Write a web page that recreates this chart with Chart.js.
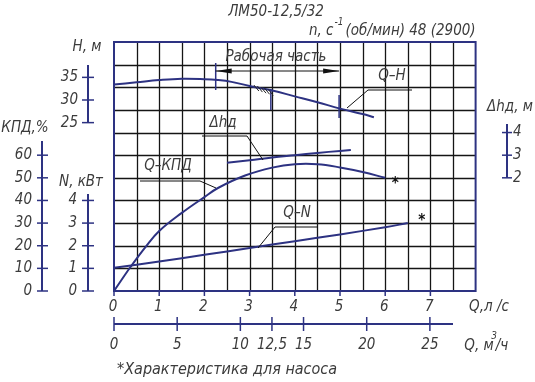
<!DOCTYPE html>
<html><head><meta charset="utf-8">
<script src="https://cdn.jsdelivr.net/npm/chart.js@4"></script>
<style>html,body{margin:0;padding:0;background:#fff}canvas{display:block}</style>
</head><body>
<canvas id="c" width="535" height="382"></canvas>
<script>
// ---- data (Q in l/s) ----
const qHead = [0, 0.5, 1, 1.5, 2, 2.3, 2.6, 3, 3.5, 4, 4.5, 5, 5.5, 5.75];
const head = [33.4, 33.9, 34.4, 34.7, 34.6, 34.4, 34.0, 33.1, 32.1, 30.8, 29.5, 28.1, 26.9, 26.2];
const qEff = [0, 0.18, 0.36, 0.7, 1.0, 1.5, 2.0, 2.3, 2.9, 3.5, 4.0, 4.5, 5.0, 5.5, 6.0];
const eff = [0, 5.3, 10.5, 19.5, 26.5, 34.5, 41.5, 45.5, 51, 54.5, 56, 56, 54.6, 52.6, 50];
const qPow = [0, 1, 2, 3, 4, 5, 6, 6.5];
const power = [1.03, 1.3, 1.6, 1.9, 2.2, 2.5, 2.82, 3.0];
const qNpsh = [2.5, 3.0, 3.5, 4.0, 4.5, 5.0, 5.24];
const npsh = [2.67, 2.78, 2.9, 3.0, 3.1, 3.19, 3.23];
const qLsTicks = [0, 1, 2, 3, 4, 5, 6, 7];
const qM3hTicks = [0, 5, 10, 12.5, 15, 20, 25];
const qM3hLabels = ['0', '5', '10', '12,5', '15', '20', '25'];
const headTicks = [25, 30, 35];
const effTicks = [0, 10, 20, 30, 40, 50, 60];
const powTicks = [0, 1, 2, 3, 4];
const npshTicks = [2, 3, 4];
const workRange = [2.25, 4.98];
const hatchQ = 3.47;

const NAVY = '#2d3282', INK = '#3c3c3c', GRID = '#151515';
const FF = '"Liberation Sans Narrow", "DejaVu Sans Condensed", sans-serif';
const FS = 15;

function pts(xs, ys) { return xs.map((x, i) => ({ x: x, y: ys[i] })); }
function txt(ctx, s, x, y, align, size) {
  ctx.font = 'italic ' + (size || FS) + 'px ' + FF;
  ctx.textAlign = align || 'center'; ctx.textBaseline = 'middle';
  ctx.fillStyle = INK; ctx.fillText(s, x, y);
}
function line(ctx, p, color, w) {
  ctx.beginPath(); ctx.moveTo(p[0][0], p[0][1]);
  for (let i = 1; i < p.length; i++) ctx.lineTo(p[i][0], p[i][1]);
  ctx.strokeStyle = color; ctx.lineWidth = w; ctx.stroke();
}

const drawPlugin = {
  id: 'pumpDecor',
  beforeDatasetsDraw(chart) {
    const ctx = chart.ctx, a = chart.chartArea, sx = chart.scales.x, sn = chart.scales.yN;
    ctx.save();
    ctx.strokeStyle = GRID; ctx.lineWidth = 1.3;
    for (let q = 0.5; q < 8; q += 0.5) {
      const x = Math.round(sx.getPixelForValue(q)) + 0.5;
      ctx.beginPath(); ctx.moveTo(x, a.top); ctx.lineTo(x, a.bottom); ctx.stroke();
    }
    for (let r = 1; r < 11; r++) {
      const y = Math.round(sn.getPixelForValue(r)) + 0.5;
      ctx.beginPath(); ctx.moveTo(a.left, y); ctx.lineTo(a.right, y); ctx.stroke();
    }
    ctx.restore();
  },
  afterDatasetsDraw(chart) {
    const ctx = chart.ctx, a = chart.chartArea, s = chart.scales;
    const sx = s.x, sH = s.yH, sK = s.yK, sN = s.yN, sD = s.yD;
    ctx.save();
    // frame
    ctx.strokeStyle = NAVY; ctx.lineWidth = 2;
    ctx.strokeRect(a.left, a.top, a.right - a.left, a.bottom - a.top);
    // bottom ticks (l/s)
    qLsTicks.forEach(q => {
      const x = sx.getPixelForValue(q);
      line(ctx, [[x, a.bottom], [x, a.bottom + 5]], NAVY, 1.5);
      txt(ctx, String(q), x - 1, 307);
    });
    txt(ctx, 'Q,л /с', 489, 307);
    // m3/h axis
    const yM = 324;
    line(ctx, [[sx.getPixelForValue(0), yM], [sx.getPixelForValue(7.5), yM]], NAVY, 2);
    qM3hTicks.forEach((v, i) => {
      const x = sx.getPixelForValue(v / 3.6) + v * 0.08;
      line(ctx, [[x, yM - 7], [x, yM + 7]], NAVY, 1.5);
      txt(ctx, qM3hLabels[i], x, 345);
    });
    txt(ctx, 'Q, м', 479, 346);
    txt(ctx, '3', 494, 336, 'center', 10);
    txt(ctx, '/ч', 502, 346);
    txt(ctx, '*Характеристика для насоса', 117, 370, 'left', 16);
    // H axis
    const xH = 88;
    line(ctx, [[xH, 65], [xH, sH.getPixelForValue(25)]], NAVY, 2);
    headTicks.forEach(v => {
      const y = sH.getPixelForValue(v);
      line(ctx, [[xH - 6, y], [xH + 6, y]], NAVY, 1.5);
      txt(ctx, String(v), 78, y, 'right');
    });
    txt(ctx, 'H, м', 87, 47);
    // КПД axis
    const xK = 42;
    line(ctx, [[xK, 141], [xK, sK.getPixelForValue(0)]], NAVY, 2);
    effTicks.forEach(v => {
      const y = sK.getPixelForValue(v);
      line(ctx, [[xK - 5, y], [xK + 6, y]], NAVY, 1.5);
      txt(ctx, String(v), 32, y, 'right');
    });
    txt(ctx, 'КПД,%', 25, 128);
    // N axis
    const xN = 88;
    line(ctx, [[xN, 194], [xN, sN.getPixelForValue(0)]], NAVY, 2);
    powTicks.forEach(v => {
      const y = sN.getPixelForValue(v);
      line(ctx, [[xN - 6, y], [xN + 6, y]], NAVY, 1.5);
      txt(ctx, String(v), 77, y, 'right');
    });
    txt(ctx, 'N, кВт', 81, 182);
    // Δhd axis
    const xD = 507;
    line(ctx, [[xD, 124], [xD, sD.getPixelForValue(2)]], NAVY, 2);
    npshTicks.forEach(v => {
      const y = sD.getPixelForValue(v);
      line(ctx, [[xD - 5, y], [xD + 5, y]], NAVY, 1.5);
      txt(ctx, String(v), 513, y, 'left');
    });
    txt(ctx, 'Δhд, м', 510, 107);
    // titles
    txt(ctx, 'ЛМ50-12,5/32', 276, 12);
    ctx.font = 'italic ' + FS + 'px ' + FF;
    let x0 = 309;
    txt(ctx, 'n, с', x0, 31, 'left');
    ctx.font = 'italic ' + FS + 'px ' + FF;
    x0 += ctx.measureText('n, с').width + 1;
    txt(ctx, '-1', x0, 22, 'left', 10);
    x0 += 11;
    txt(ctx, '(об/мин) 48 (2900)', x0, 31, 'left');
    // working range dimension
    const xa = sx.getPixelForValue(workRange[0]), xb = sx.getPixelForValue(workRange[1]);
    line(ctx, [[xa, 63], [xa, 90]], NAVY, 1.5);
    line(ctx, [[xb, 95], [xb, 118]], NAVY, 1.5);
    line(ctx, [[xa, 71], [xb, 71]], '#111', 1);
    ctx.fillStyle = '#111';
    ctx.beginPath(); ctx.moveTo(xa, 71); ctx.lineTo(xa + 16, 68.5); ctx.lineTo(xa + 16, 73.5); ctx.fill();
    ctx.beginPath(); ctx.moveTo(xb, 71); ctx.lineTo(xb - 16, 68.5); ctx.lineTo(xb - 16, 73.5); ctx.fill();
    txt(ctx, 'Рабочая часть', 276, 57);
    // hatch boundary
    const xh = sx.getPixelForValue(hatchQ);
    line(ctx, [[xh, 89], [xh, 110]], NAVY, 1.5);
    for (let i = 0; i < 5; i++) {
      const bx = xh - 17 + i * 3.6, by = 85 + i * 1.1;
      line(ctx, [[bx, by], [bx + 5, by + 6]], '#222', 1);
    }
    // leaders & labels
    line(ctx, [[412, 90], [368, 90], [347, 108]], '#111', 1);
    txt(ctx, 'Q–H', 392, 76);
    line(ctx, [[202, 136], [247, 136], [263, 160]], '#111', 1);
    txt(ctx, 'Δhд', 223, 123);
    line(ctx, [[140, 181], [200, 181], [216, 188]], '#111', 1);
    txt(ctx, 'Q–КПД', 168, 166);
    line(ctx, [[318, 227], [275, 227], [258, 248]], '#111', 1);
    txt(ctx, 'Q–N', 297, 213);
    // asterisks
    ctx.font = 'bold 15px ' + FF; ctx.fillStyle = '#111'; ctx.textAlign = 'center'; ctx.textBaseline = 'middle';
    ctx.fillText('*', sx.getPixelForValue(qEff[qEff.length - 1]) + 10, sK.getPixelForValue(eff[eff.length - 1]) + 6);
    ctx.fillText('*', sx.getPixelForValue(qPow[qPow.length - 1]) + 14, sN.getPixelForValue(power[power.length - 1]) - 2);
    ctx.restore();
  }
};

const ds = (data, yAxisID) => ({
  data, yAxisID, xAxisID: 'x', borderColor: NAVY, borderWidth: 2, pointRadius: 0,
  fill: false, tension: 0.4, showLine: true
});

new Chart(document.getElementById('c'), {
  type: 'scatter',
  data: {
    datasets: [
      ds(pts(qHead, head), 'yH'),
      ds(pts(qEff, eff), 'yK'),
      ds(pts(qPow, power), 'yN'),
      ds(pts(qNpsh, npsh), 'yD')
    ]
  },
  options: {
    responsive: false, animation: false, devicePixelRatio: 1,
    layout: { padding: { left: 114, right: 59.4, top: 42, bottom: 91 } },
    plugins: { legend: { display: false }, tooltip: { enabled: false } },
    scales: {
      x: { type: 'linear', min: 0, max: 8, display: false },
      yH: { type: 'linear', min: -12.19, max: 42.81, display: false },
      yK: { type: 'linear', min: 0, max: 110, display: false },
      yN: { type: 'linear', min: 0, max: 11, display: false },
      yD: { type: 'linear', min: -3, max: 8, display: false }
    }
  },
  plugins: [drawPlugin]
});
</script>
</body></html>
